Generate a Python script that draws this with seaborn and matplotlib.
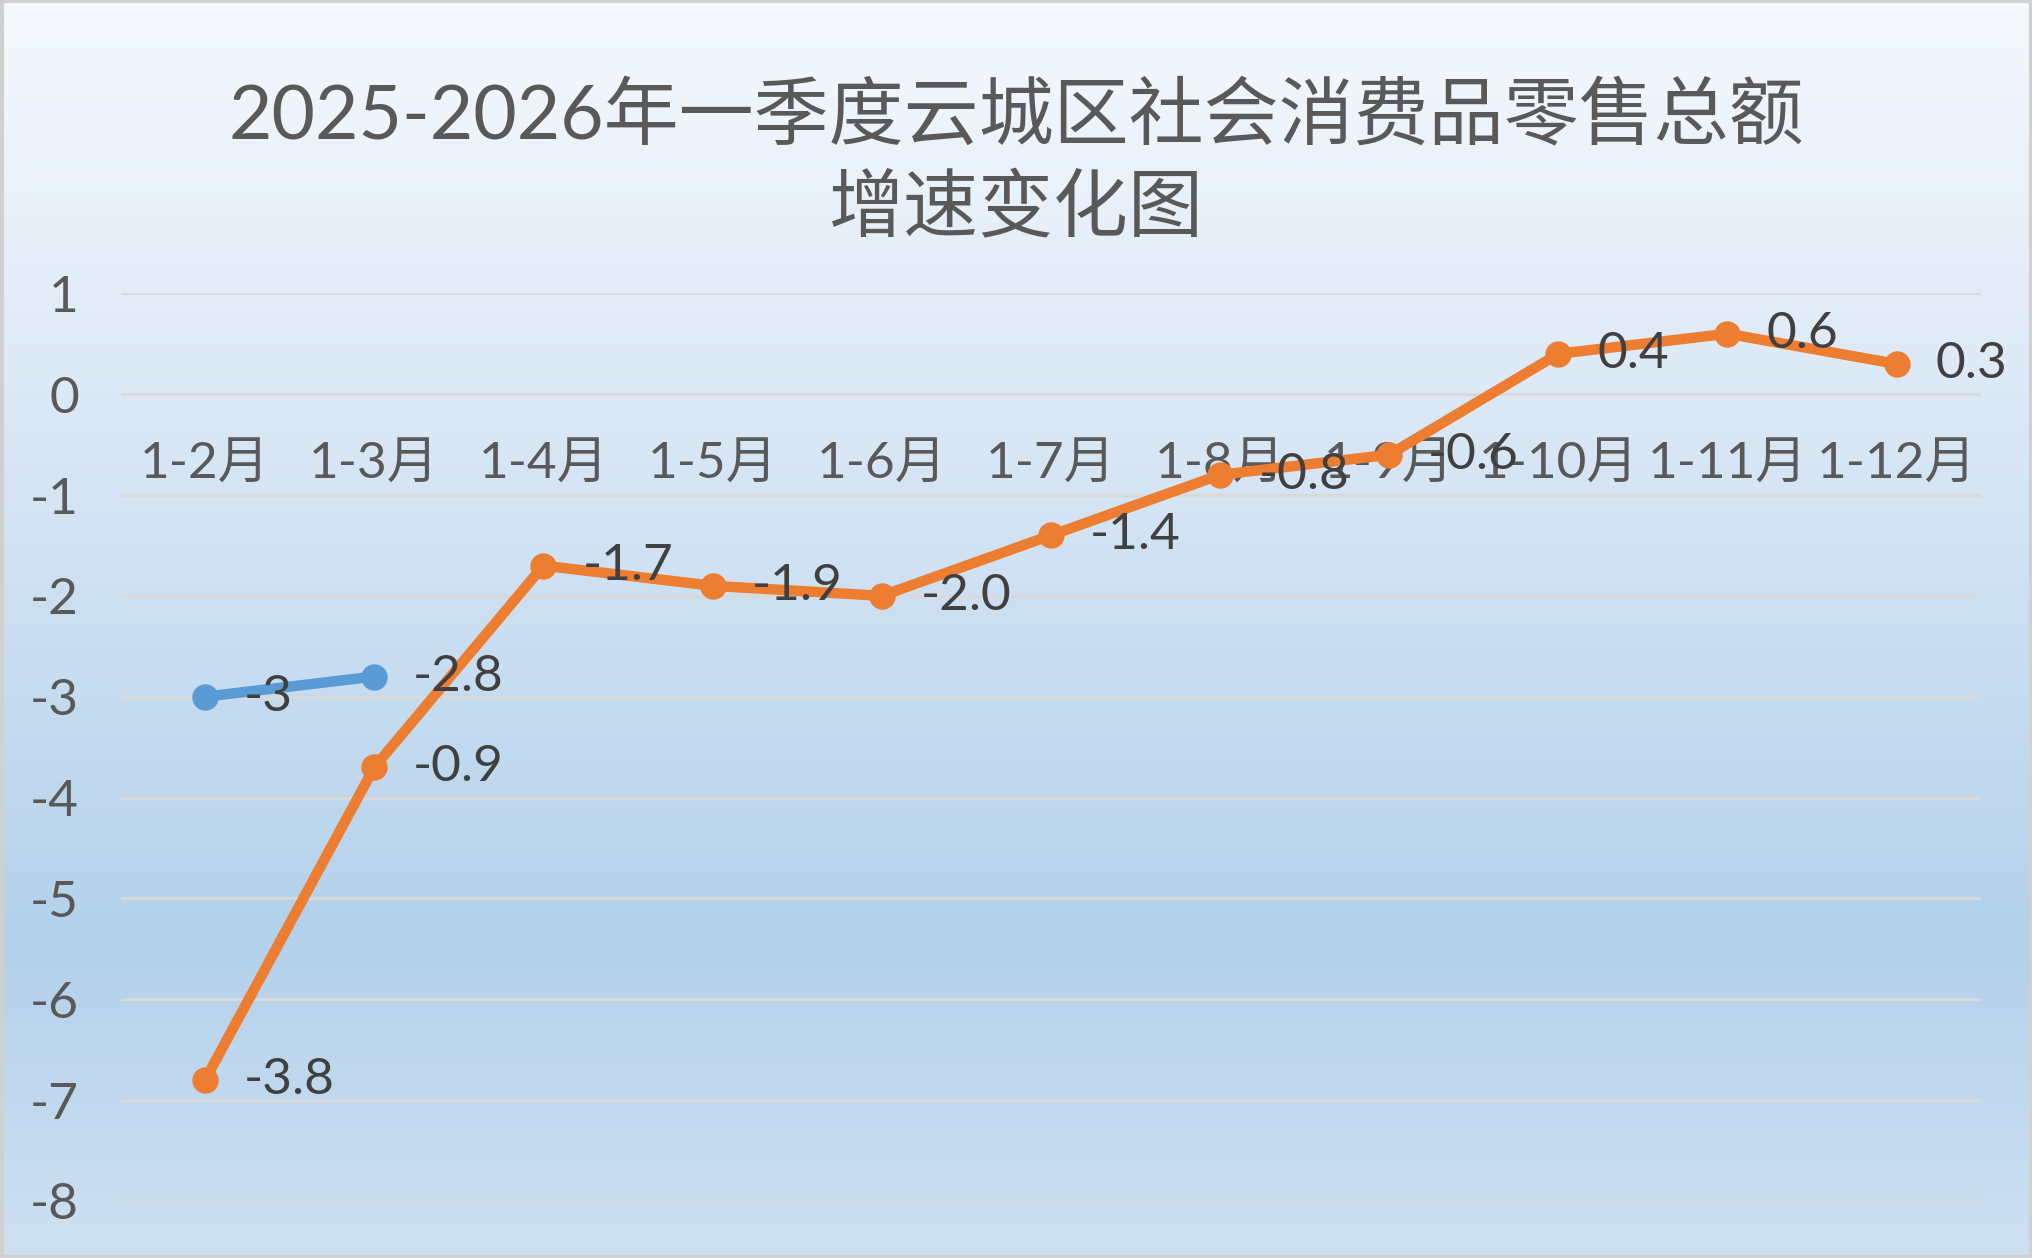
import matplotlib
matplotlib.use("Agg")
import matplotlib.pyplot as plt
import matplotlib.patches as mpatches
from matplotlib.colors import LinearSegmentedColormap
import seaborn as sns
import numpy as np
import pandas as pd

# data
months = ['1-2月', '1-3月', '1-4月', '1-5月', '1-6月', '1-7月',
          '1-8月', '1-9月', '1-10月', '1-11月', '1-12月']
orange_values = [-6.8, -3.7, -1.7, -1.9, -2.0, -1.4, -0.8, -0.6, 0.4, 0.6, 0.3]
orange_labels = ['-3.8', '-0.9', '-1.7', '-1.9', '-2.0', '-1.4',
                 '-0.8', '-0.6', '0.4', '0.6', '0.3']
blue_months = ['1-2月', '1-3月']
blue_values = [-3.0, -2.8]
blue_labels = ['-3', '-2.8']
yticks = list(range(-8, 2))

title_line1 = '2025-2026年一季度云城区社会消费品零售总额'
title_line2 = '增速变化图'

sns.set_theme(style="white")
plt.rcParams['font.family'] = ['Lato', 'Noto Sans CJK SC', 'DejaVu Sans']

ORANGE = '#ED7D31'
BLUE = '#5B9BD5'
TXT = '#595959'
LBL = '#404040'

fig = plt.figure(figsize=(20.33, 12.58), dpi=100)

# gradient background like the Excel chart area
bg = fig.add_axes([0, 0, 1, 1], zorder=-10)
cmap = LinearSegmentedColormap.from_list(
    'bg', [(0.0, '#f5f9fd'), (0.35, '#d9e7f5'), (0.75, '#b3d1eb'), (1.0, '#cee1f2')])
grad = np.linspace(0, 1, 256).reshape(-1, 1)
bg.imshow(grad, cmap=cmap, aspect='auto', extent=[0, 1, 0, 1], origin='upper')
bg.set_axis_off()
fig.patches.append(mpatches.Rectangle((0.001, 0.001), 0.998, 0.998, transform=fig.transFigure,
                                      fill=False, edgecolor='#d0d0d0', linewidth=3))

ax = fig.add_axes([0.0593, 0.0454, 0.9152, 0.7214])
ax.set_facecolor('none')

df_orange = pd.DataFrame({'month': months, 'value': orange_values})
df_blue = pd.DataFrame({'month': blue_months, 'value': blue_values})

sns.lineplot(data=df_orange, x='month', y='value', ax=ax, color=ORANGE, sort=False,
             marker='o', zorder=4)
sns.lineplot(data=df_blue, x='month', y='value', ax=ax, color=BLUE, sort=False,
             marker='o', zorder=3)
for ln in ax.lines:
    ln.set_linewidth(7.5)
    ln.set_markersize(19)
    ln.set_markeredgewidth(0)

# data labels (to the right of each point)
for i, (v, t) in enumerate(zip(orange_values, orange_labels)):
    ax.annotate(t, (i, v), xytext=(28, 0), textcoords='offset points',
                ha='left', va='center', fontsize=37, color=LBL, zorder=6)
for i, (v, t) in enumerate(zip(blue_values, blue_labels)):
    ax.annotate(t, (i, v), xytext=(28, 0), textcoords='offset points',
                ha='left', va='center', fontsize=37, color=LBL, zorder=6)

ax.set_xlim(-0.5, len(months) - 0.5)
ax.set_ylim(-8, 1)
ax.set_yticks(yticks)
ax.set_yticklabels([str(t) for t in yticks])
ax.set_xticks(range(len(months)))
ax.set_xticklabels(months)
ax.set_xlabel('')
ax.set_ylabel('')

ax.set_axisbelow(True)
ax.yaxis.grid(True, color='#d9d9d9', linewidth=2.2)
ax.xaxis.grid(False)
for s in ['top', 'right', 'left']:
    ax.spines[s].set_visible(False)
ax.spines['bottom'].set_position(('data', 0))
ax.spines['bottom'].set_visible(False)
ax.tick_params(axis='x', length=0, pad=34, labelsize=37, labelcolor=TXT)
ax.tick_params(axis='y', length=0, pad=30, labelsize=37, labelcolor=TXT)

fig.text(0.5, 0.907, title_line1, ha='center', va='center', fontsize=54, color=TXT)
fig.text(0.5, 0.834, title_line2, ha='center', va='center', fontsize=54, color=TXT)

fig.savefig('out.png', dpi=100)
